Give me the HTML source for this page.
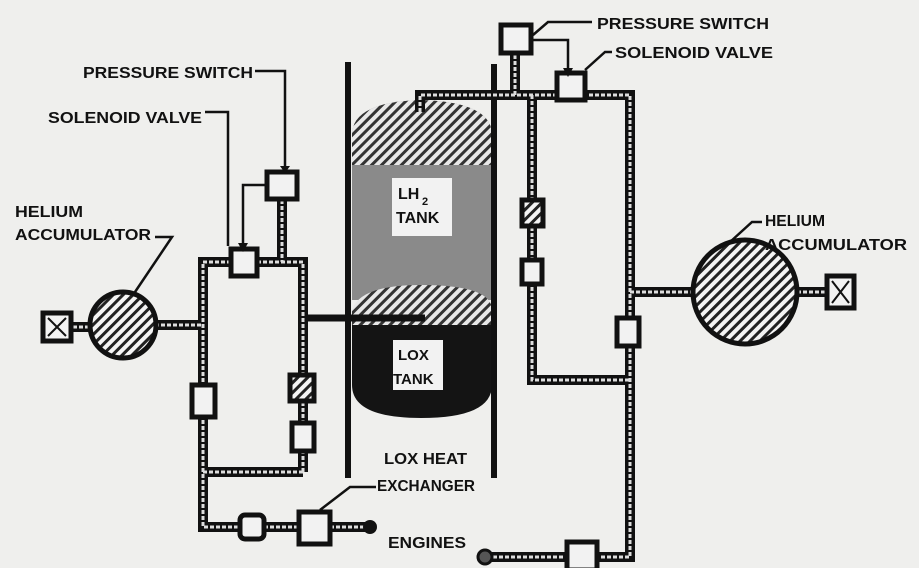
<!DOCTYPE html>
<html><head><meta charset="utf-8"><style>
html,body{margin:0;padding:0;background:#efefed;}
svg{display:block}
text{font-family:"Liberation Sans",sans-serif;font-weight:bold;fill:#111;}
</style></head><body>
<svg width="919" height="568" viewBox="0 0 919 568" xmlns="http://www.w3.org/2000/svg">
<defs>
<pattern id="h" width="7" height="7" patternUnits="userSpaceOnUse" patternTransform="rotate(45)">
<rect width="7" height="7" fill="#f4f4f4"/><rect width="3" height="7" fill="#222"/></pattern>
<pattern id="hg" width="7" height="7" patternUnits="userSpaceOnUse" patternTransform="rotate(45)">
<rect width="7" height="7" fill="#e8e8e8"/><rect width="3" height="7" fill="#333"/></pattern>
</defs>
<rect width="919" height="568" fill="#efefed"/>

<path d="M352 135 Q352 102 421 100 Q492 102 492 135 L492 300 L352 300 Z" fill="#8a8a8a"/>
<path d="M352 135 Q352 102 421 100 Q492 102 492 135 L492 165 L352 165 Z" fill="url(#hg)"/>
<path d="M352 320 L492 320 L492 385 Q492 418 421 418 Q352 418 352 385 Z" fill="#141414"/>
<path d="M352 310 Q360 285 421 285 Q492 285 492 310 L492 325 L352 325 Z" fill="url(#hg)"/>
<rect x="392" y="178" width="60" height="58" fill="#f2f2f2"/>
<text x="398" y="199" font-size="16">LH</text><text x="422" y="205" font-size="11">2</text>
<text x="396" y="223" font-size="16">TANK</text>
<rect x="393" y="340" width="50" height="50" fill="#f2f2f2"/>
<text x="398" y="360" font-size="15">LOX</text>
<text x="393" y="384" font-size="15">TANK</text>
<line x1="348" y1="62" x2="348" y2="478" stroke="#111" stroke-width="6"/>
<line x1="494" y1="64" x2="494" y2="478" stroke="#111" stroke-width="6"/>

<g fill="none" stroke-linejoin="miter">
<g stroke="#111" stroke-width="10">
<path d="M303 472 L303 262 L203 262 L203 527 L370 527"/>
<path d="M203 472 L303 472"/>
<path d="M282 200 L282 262"/>
<path d="M155 325 L203 325"/>
<path d="M73 327 L95 327"/>
<path d="M420 112 L420 95 L630 95 L630 557 L485 557"/>
<path d="M532 95 L532 380 L630 380"/>
<path d="M515 55 L515 95"/>
<path d="M630 292 L695 292"/>
<path d="M797 292 L825 292"/>
</g>
<g stroke="#ddd" stroke-width="3" stroke-dasharray="4 2">
<path d="M303 472 L303 262 L203 262 L203 527 L365 527"/>
<path d="M203 472 L303 472"/>
<path d="M282 200 L282 262"/>
<path d="M155 325 L203 325"/>
<path d="M73 327 L95 327"/>
<path d="M420 112 L420 95 L630 95 L630 557 L490 557"/>
<path d="M532 95 L532 380 L630 380"/>
<path d="M515 55 L515 95"/>
<path d="M630 292 L695 292"/>
<path d="M797 292 L825 292"/>
</g>
<path d="M305 318 L425 318" stroke="#111" stroke-width="7"/>
</g>
<circle cx="370" cy="527" r="7" fill="#111"/>
<circle cx="485" cy="557" r="7" fill="#555" stroke="#111" stroke-width="3"/>

<circle cx="123" cy="325" r="33" fill="url(#h)" stroke="#111" stroke-width="5"/>
<circle cx="745" cy="292" r="52" fill="url(#h)" stroke="#111" stroke-width="5"/>
<g stroke="#111" stroke-width="5" fill="#f2f2f2">
<rect x="43" y="313" width="28" height="28"/>
<rect x="827" y="276" width="27" height="32"/>
</g>
<g stroke="#111" stroke-width="2">
<path d="M48 318 L66 336 M66 318 L48 336"/>
<path d="M832 281 L849 303 M849 281 L832 303"/>
</g>

<g stroke="#111" stroke-width="5" fill="#f2f2f2">
<rect x="231" y="249" width="26" height="27"/>
<rect x="267" y="172" width="30" height="27"/>
<rect x="501" y="25" width="30" height="28"/>
<rect x="557" y="73" width="28" height="27"/>
<rect x="299" y="512" width="31" height="32"/>
<rect x="567" y="542" width="30" height="28"/>
<rect x="192" y="385" width="23" height="32"/>
<rect x="292" y="423" width="22" height="28"/>
<rect x="522" y="260" width="20" height="24"/>
<rect x="617" y="318" width="22" height="28"/>
<rect x="240" y="515" width="24" height="24" rx="5"/>
</g>
<rect x="290" y="375" width="24" height="26" fill="url(#h)" stroke="#111" stroke-width="5"/>
<rect x="522" y="200" width="21" height="26" fill="url(#h)" stroke="#111" stroke-width="5"/>

<g stroke="#111" stroke-width="2.5" fill="none">
<path d="M267 185 L243 185 L243 245"/>
<path d="M531 40 L568 40 L568 70"/>
<path d="M255 71 L285 71 L285 168"/>
<path d="M205 112 L228 112 L228 246"/>
<path d="M533 35 L548 22 L592 22"/>
<path d="M585 70 L605 52 L612 52"/>
<path d="M155 237 L172 237 L135 292"/>
<path d="M762 222 L752 222 L730 242"/>
<path d="M320 510 L350 487 L376 487"/>
</g>
<g fill="#111">
<path d="M238 243 L248 243 L243 252 Z"/>
<path d="M563 68 L573 68 L568 77 Z"/>
<path d="M280 166 L290 166 L285 173 Z"/>
</g>

<g font-size="16">
<text x="83" y="78" textLength="170" lengthAdjust="spacingAndGlyphs">PRESSURE SWITCH</text>
<text x="48" y="123" textLength="154" lengthAdjust="spacingAndGlyphs">SOLENOID VALVE</text>
<text x="15" y="217" textLength="68" lengthAdjust="spacingAndGlyphs">HELIUM</text>
<text x="15" y="240" textLength="136" lengthAdjust="spacingAndGlyphs">ACCUMULATOR</text>
<text x="597" y="29" textLength="172" lengthAdjust="spacingAndGlyphs">PRESSURE SWITCH</text>
<text x="615" y="58" textLength="158" lengthAdjust="spacingAndGlyphs">SOLENOID VALVE</text>
<text x="765" y="226" textLength="60" lengthAdjust="spacingAndGlyphs">HELIUM</text>
<text x="765" y="250" textLength="142" lengthAdjust="spacingAndGlyphs">ACCUMULATOR</text>
<text x="384" y="464" textLength="83" lengthAdjust="spacingAndGlyphs">LOX HEAT</text>
<text x="377" y="491" textLength="98" lengthAdjust="spacingAndGlyphs">EXCHANGER</text>
<text x="388" y="548" textLength="78" lengthAdjust="spacingAndGlyphs">ENGINES</text>
</g>
</svg>
</body></html>
